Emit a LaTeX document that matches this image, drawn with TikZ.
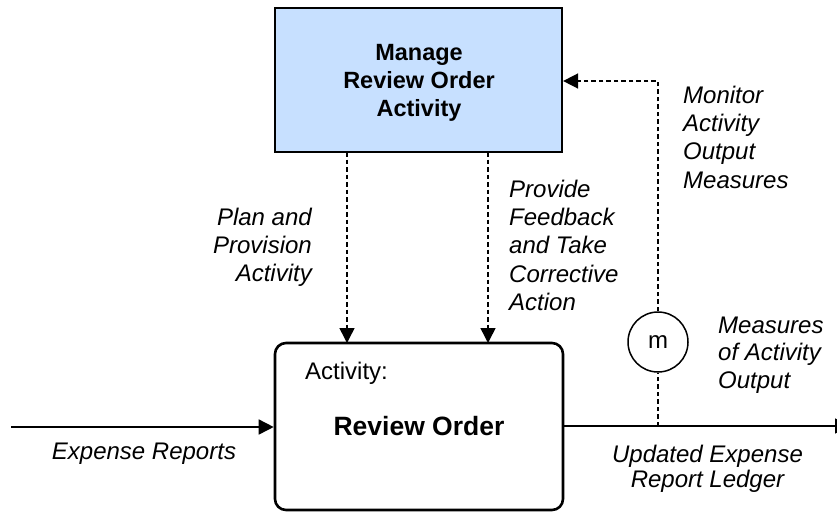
\documentclass[tikz,border=0pt]{standalone}
\usepackage{fontspec}
\setmainfont{Liberation Sans}
\usetikzlibrary{arrows.meta}
\definecolor{mgmtblue}{RGB}{199,224,255}
% first-line strut: the top of a label sits 20pt above its first baseline
\newcommand{\firstln}{\rule{0pt}{20pt}}
\begin{document}
\begin{tikzpicture}[x=1pt,y=-1pt,
  lbl/.style={font=\fontsize{24}{28.3}\selectfont\itshape, inner sep=0pt, align=left},
  tip/.style={-{Triangle[length=15pt,width=15pt]}},
  flow/.style={line width=1.6pt, tip},
  ctrl/.style={line width=1.5pt, dash pattern=on 4.5pt off 3pt, tip},
  meas/.style={line width=1.5pt, dash pattern=on 4.5pt off 3pt}]
\useasboundingbox (0,0) rectangle (837,512);

% management box
\node (mgmt) [draw, line width=2.2pt, fill=mgmtblue, minimum width=287pt, minimum height=144pt,
  inner sep=0pt] at (418.5,80) {};
\node (mgmtname) [align=center, inner sep=0pt, anchor=north,
  font=\fontsize{23.5}{28.3}\selectfont\bfseries] at (419,40) {\firstln Manage\\Review Order\\Activity};

% activity box
\node (act) [draw, line width=2.6pt, rounded corners=11pt, minimum width=288pt, minimum height=167pt,
  inner sep=0pt] at (419,426.5) {};
\node (actlbl) [font=\fontsize{24}{28}\selectfont, anchor=base west, inner sep=0pt] at (305,379) {Activity:};
\node (actname) [font=\fontsize{26.5}{30}\selectfont\bfseries, anchor=base, inner sep=0pt] at (419,435) {Review Order};

% control arrows
\draw[ctrl] (347,152) -- (347,343);
\draw[ctrl] (488,152) -- (488,343);

% input and output
\coordinate (in) at (11,427);
\coordinate (out) at (850,426);
\draw[flow] (in) -- (act.west |- in);
\draw[flow] (act.east |- out) -- (out);

% measurement point
\node (m) [draw, circle, line width=1.5pt, minimum size=60pt, inner sep=0pt,
  font=\fontsize{24}{26}\selectfont] at (658,342) {m};
\coordinate (tap) at (658,426);
\coordinate (turn) at (658,81);
\draw[meas] (tap) -- (m.south);
\draw[ctrl] (m.north) -- (turn) -- (mgmt.east |- turn);

% labels (first baseline = y + 20)
\node (plan) [lbl, align=right, anchor=north east] at (312,205) {\firstln Plan and\\Provision\\Activity};
\node (feedback) [lbl, anchor=north west] at (509,177) {\firstln Provide\\Feedback\\and Take\\Corrective\\Action};
\node (monitor) [lbl, anchor=north west] at (683,83) {\firstln Monitor\\Activity\\Output\\Measures};
\node (measures) [lbl, anchor=north west, font=\fontsize{24}{27.5}\selectfont\itshape] at (718,313) {\firstln Measures\\of Activity\\Output};
\node (inlbl) [lbl, anchor=base] at (144,459) {Expense Reports};
\node (outlbl) [lbl, align=center, anchor=north, font=\fontsize{24}{25}\selectfont\itshape] at (707.5,442) {\firstln Updated Expense\\Report Ledger};
\end{tikzpicture}
\end{document}
